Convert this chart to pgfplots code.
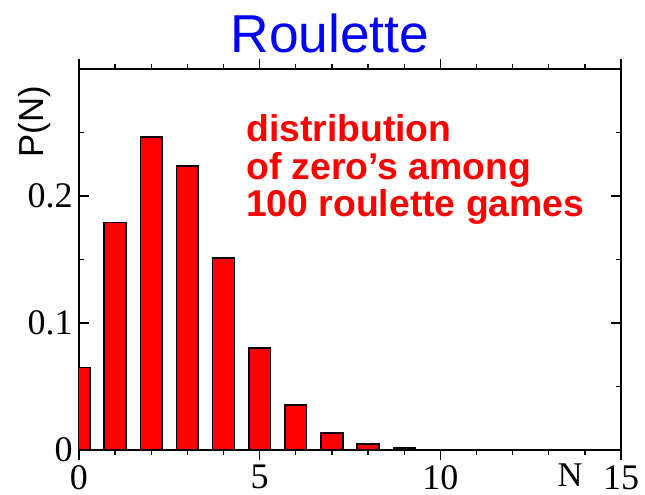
\documentclass[border=0pt]{standalone}
\usepackage{fontspec}
\setmainfont{Liberation Serif}
\setsansfont{Liberation Sans}
\usepackage{pgfplots}
\usepackage{pgfplotstable}
\pgfplotsset{compat=1.18}

% P(N): number of zeros in 100 roulette games
\pgfplotstableread{
n p
0 0.0650
1 0.1790
2 0.2466
3 0.2236
4 0.1510
5 0.0805
6 0.0355
7 0.0135
8 0.0047
9 0.0016
10 0.0005
11 0.0001
12 0.00003
}\roulette

\begin{document}
\begin{tikzpicture}
\useasboundingbox (-59.25pt,-33.75pt) rectangle (424.5pt,337.5pt);
\begin{axis}[
    at={(0,0)}, anchor=south west,
    scale only axis, width=406.5pt, height=285.75pt,
    xmin=0, xmax=15, ymin=0, ymax=0.3,
    xtick={0,5,10,15}, minor x tick num=4,
    ytick={0,0.1,0.2,0.3}, yticklabels={0,0.1,0.2,{}}, minor y tick num=1,
    major tick length=7.5pt, minor tick length=4pt,
    axis line style={line width=1.1pt},
    every tick/.style={black, line width=1pt},
    tick label style={font=\fontsize{27}{27}\selectfont},
    /pgf/number format/assume math mode=true,
    xticklabel style={anchor=north, inner sep=0pt, yshift=-3.75pt},
    yticklabel style={anchor=east, inner sep=0pt, xshift=-4.5pt},
    ybar, bar width=0.6,
    clip mode=individual,
]
\addplot[fill=red, draw=black, line width=1.2pt] table[x=n, y=p] {\roulette};

\node[anchor=base, inner sep=0pt, text=blue, font=\sffamily\fontsize{40}{40}\selectfont]
    at (rel axis cs:0.463,1.042) {Roulette};
\node[rotate=90, inner sep=0pt, font=\sffamily\fontsize{26}{26}\selectfont]
    at (rel axis cs:-0.0812,0.861) {P(N)};
\node[anchor=north, inner sep=0pt, font=\fontsize{26}{26}\selectfont]
    at (rel axis cs:0.906,-0.036) {N};
\node[anchor=base west, inner sep=0pt, text=red, font=\sffamily\bfseries\fontsize{28}{28}\selectfont]
    at (rel axis cs:0.308,0.8092) {distribution};
\node[anchor=base west, inner sep=0pt, text=red, font=\sffamily\bfseries\fontsize{28}{28}\selectfont]
    at (rel axis cs:0.308,0.7108) {of zero’s among};
\node[anchor=base west, inner sep=0pt, text=red, font=\sffamily\bfseries\fontsize{28}{28}\selectfont]
    at (rel axis cs:0.308,0.6123) {100 roulette games};
\end{axis}
\end{tikzpicture}
\end{document}
